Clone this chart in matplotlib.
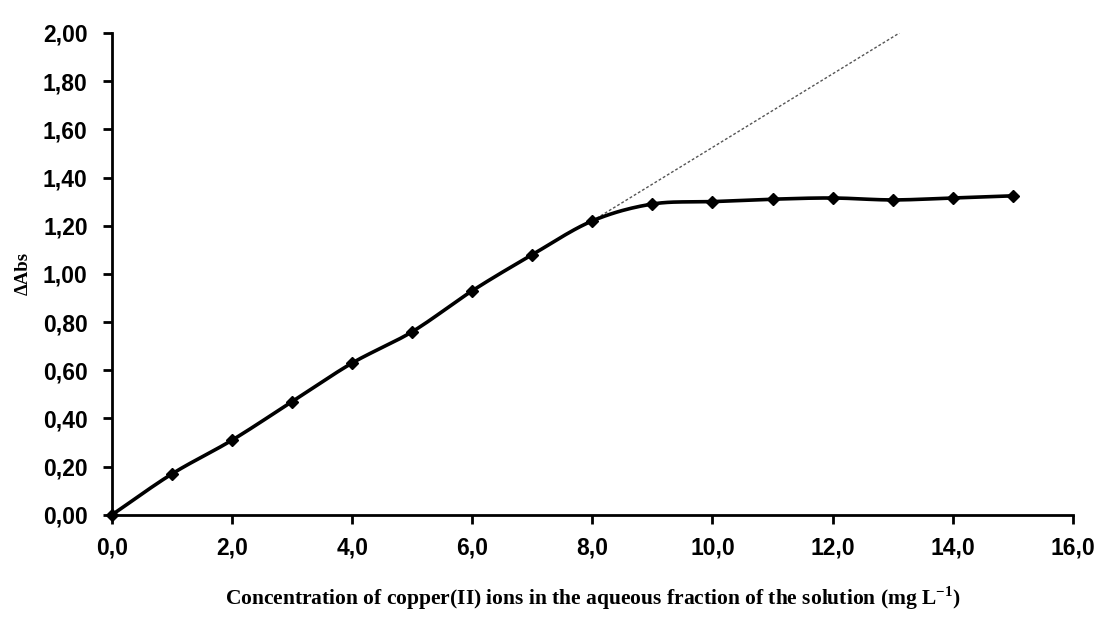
import numpy as np
import matplotlib
matplotlib.use("Agg")
import matplotlib.pyplot as plt
from matplotlib import font_manager

conc = [0, 1, 2, 3, 4, 5, 6, 7, 8, 9, 10, 11, 12, 13, 14, 15]
dabs = [0.00, 0.17, 0.31, 0.47, 0.63, 0.76, 0.93, 1.08, 1.22, 1.29, 1.30,
        1.31, 1.315, 1.307, 1.315, 1.324]
trend_start = 8
trend_slope = 0.1525
xticks = [0, 2, 4, 6, 8, 10, 12, 14, 16]
yticks = [0.0, 0.2, 0.4, 0.6, 0.8, 1.0, 1.2, 1.4, 1.6, 1.8, 2.0]

plt.rcParams["mathtext.fontset"] = "custom"
plt.rcParams["mathtext.bf"] = "Liberation Serif:bold"
plt.rcParams["mathtext.rm"] = "Liberation Serif:bold"

names = {f.name for f in font_manager.fontManager.ttflist}
tick_font = "Liberation Sans Narrow" if "Liberation Sans Narrow" in names else "Liberation Sans"
tick_size = 20 if tick_font == "Liberation Sans Narrow" else 16.5


def catmull_rom(x, y, n=20):
    x = np.asarray(x, float); y = np.asarray(y, float)
    px = np.concatenate([[2 * x[0] - x[1]], x, [2 * x[-1] - x[-2]]])
    py = np.concatenate([[2 * y[0] - y[1]], y, [2 * y[-1] - y[-2]]])
    outx, outy = [], []
    t = np.linspace(0, 1, n, endpoint=False)
    for i in range(1, len(px) - 2):
        for arr, out in ((px, outx), (py, outy)):
            p0, p1, p2, p3 = arr[i - 1], arr[i], arr[i + 1], arr[i + 2]
            out.extend(0.5 * ((2 * p1) + (-p0 + p2) * t
                              + (2 * p0 - 5 * p1 + 4 * p2 - p3) * t ** 2
                              + (-p0 + 3 * p1 - 3 * p2 + p3) * t ** 3))
    outx.append(x[-1]); outy.append(y[-1])
    return np.array(outx), np.array(outy)


fig = plt.figure(figsize=(10.98, 6.34), dpi=100)
ax = fig.add_axes([0.102, 0.188, 0.875, 0.760])

# trend line (dotted), starting at the last point of the linear range
y0 = dabs[conc.index(trend_start)]
tx = np.array([trend_start, trend_start + (2.0 - y0) / trend_slope])
ax.plot(tx, y0 + trend_slope * (tx - trend_start), color="#555555", lw=1.0,
        ls=(0, (2, 1.5)), zorder=2)

sx, sy = catmull_rom(conc, dabs)
ax.plot(sx, sy, color="black", lw=2.6, zorder=3)
ax.plot(conc, dabs, ls="none", marker="D", ms=6.5, color="black", zorder=4,
        clip_on=False)

ax.set_xlim(0, 16)
ax.set_ylim(0, 2.0)
ax.set_xticks(xticks)
ax.set_yticks(yticks)
ax.set_xticklabels([f"{v:.1f}".replace(".", ",") for v in xticks])
ax.set_yticklabels([f"{v:.2f}".replace(".", ",") for v in yticks])
for lab in ax.get_xticklabels() + ax.get_yticklabels():
    lab.set_fontfamily(tick_font)
    lab.set_fontweight("bold")
    lab.set_fontsize(tick_size)
ax.tick_params(axis="both", direction="out", length=6.5, width=2)
ax.tick_params(axis="x", pad=9)
ax.tick_params(axis="y", pad=11)
ax.spines["top"].set_visible(False)
ax.spines["right"].set_visible(False)
ax.spines["left"].set_linewidth(2)
ax.spines["bottom"].set_linewidth(2)

ax.set_ylabel("\u0394Abs", fontfamily="Liberation Serif", fontweight="bold",
              fontsize=13.5, labelpad=8)
fig.text(0.54, 0.056,
         "Concentration of copper(II) ions in the aqueous fraction of the solution (mg L$^{\\mathbf{-1}}$)",
         ha="center", va="center", fontfamily="Liberation Serif", fontweight="bold",
         fontsize=15.5)

fig.savefig("out.png", dpi=100)
